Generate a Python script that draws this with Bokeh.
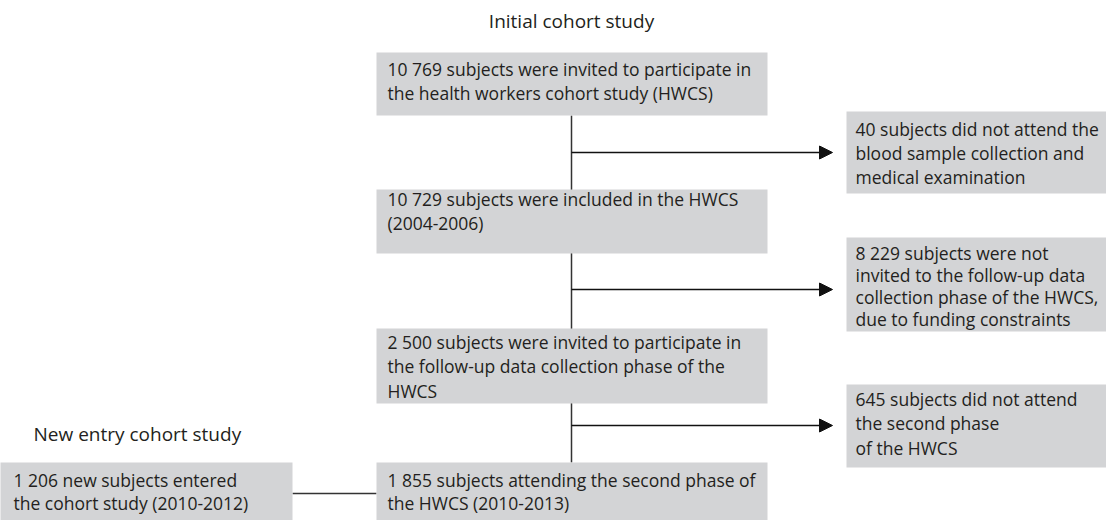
from bokeh.plotting import figure
from bokeh.models import Range1d, Arrow, NormalHead
from bokeh.core.properties import value
from bokeh.embed import file_html
from bokeh.resources import INLINE

# ---- content ----
title_main = "Initial cohort study"
title_new = "New entry cohort study"
main_texts = [
    ["10 769 subjects were invited to participate in", "the health workers cohort study (HWCS)"],
    ["10 729 subjects were included in the HWCS", "(2004-2006)"],
    ["2 500 subjects were invited to participate in", "the follow-up data collection phase of the", "HWCS"],
    ["1 855 subjects attending the second phase of", "the HWCS (2010-2013)"],
]
excluded_texts = [
    ["40 subjects did not attend the", "blood sample collection and", "medical examination"],
    ["8 229 subjects were not", "invited to the follow-up data", "collection phase of the HWCS,", "due to funding constraints"],
    ["645 subjects did not attend", "the second phase", "of the HWCS"],
]
new_text = ["1 206 new subjects entered", "the cohort study (2010-2012)"]

# ---- layout (page pixel coordinates) ----
W, H = 1106, 520
main_x0, main_x1 = 376, 767
main_top = [52, 189, 328, 462]
main_bot = [115, 253, 403, 530]
main_line1 = [68, 198, 341, 479]
main_step = [24, 24, 24.5, 23.5]
text_x_main = 387

exc_x0, exc_x1 = 846, 1120
exc_top = [111, 237, 384]
exc_bot = [193, 331, 467]
exc_line1 = [128, 252, 398]
exc_step = [24, 22, 24.5]
text_x_exc = 855

new_x0, new_x1 = -5, 292
new_top, new_bot = 462, 530
new_line1, new_step = 479, 23.5

spine_x = 571
arrow_y = [152, 289, 425]
arrow_tip = 832
connector_y = 493

FONT = value("Open Sans")
TXT = "#231f20"
BOX = "#d3d4d6"
FS = "17.5px"
FS_T = "19px"

p = figure(width=W, height=H, output_backend="svg", toolbar_location=None,
           x_range=Range1d(0, W), y_range=Range1d(H, 0),
           min_border=0, outline_line_color=None)
p.axis.visible = False
p.grid.visible = False
p.background_fill_color = "white"

# spine line
p.segment(x0=[spine_x], y0=[main_bot[0]], x1=[spine_x], y1=[main_top[3]],
          line_color="#333333", line_width=1.5)
# connector from new entry box
p.segment(x0=[new_x1], y0=[connector_y], x1=[main_x0], y1=[connector_y],
          line_color="#333333", line_width=1.5)

# boxes
p.quad(left=[main_x0]*4, right=[main_x1]*4, top=main_top, bottom=main_bot,
       fill_color=BOX, line_color=None)
p.quad(left=[exc_x0]*3, right=[exc_x1]*3, top=exc_top, bottom=exc_bot,
       fill_color=BOX, line_color=None)
p.quad(left=[new_x0], right=[new_x1], top=[new_top], bottom=[new_bot],
       fill_color=BOX, line_color=None)

# arrows
for y in arrow_y:
    p.add_layout(Arrow(x_start=spine_x, y_start=y, x_end=arrow_tip, y_end=y,
                       line_color="#111111", line_width=1.5,
                       end=NormalHead(size=13, fill_color="#111111", line_color="#111111")))

def put_lines(lines, x, y1, step):
    ys = [y1 + i * step for i in range(len(lines))]
    p.text(x=[x]*len(lines), y=ys, text=lines, text_font=FONT, text_font_size=FS,
           text_color=TXT, text_baseline="middle", text_align="left")

for lines, y1, st in zip(main_texts, main_line1, main_step):
    put_lines(lines, text_x_main, y1, st)
for lines, y1, st in zip(excluded_texts, exc_line1, exc_step):
    put_lines(lines, text_x_exc, y1, st)
put_lines(new_text, 13, new_line1, new_step)

p.text(x=[spine_x], y=[20], text=[title_main], text_font=FONT, text_font_size=FS_T,
       text_color=TXT, text_baseline="middle", text_align="center")
p.text(x=[33], y=[433], text=[title_new], text_font=FONT, text_font_size=FS_T,
       text_color=TXT, text_baseline="middle", text_align="left")

open("out.html", "w").write(file_html(p, INLINE))
